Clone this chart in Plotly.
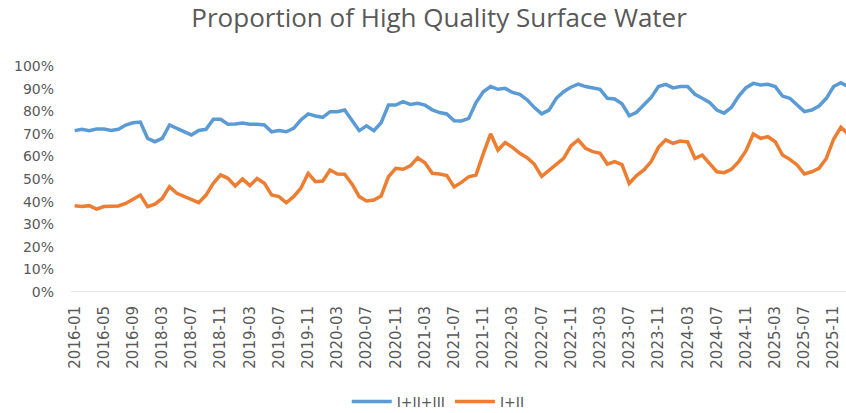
import plotly.graph_objects as go
import pandas as pd

# Categories (monthly, with a gap between 2016-12 and 2018-03 as in the source)
months = [f"2016-{m:02d}" for m in range(1, 13)] + \
         [p.strftime("%Y-%m") for p in pd.period_range("2018-03", "2026-01", freq="M")]

# I+II+III (%)
class_1_3 = [
    71.4, 72.0, 71.4, 72.1, 72.1, 71.5, 72.0, 73.9, 74.9, 75.2,
    68.0, 66.5, 68.0, 73.9, 72.4, 71.0, 69.5, 71.5, 72.0, 76.4,
    76.4, 74.2, 74.3, 74.8, 74.2, 74.2, 73.9, 70.9, 71.4, 70.9,
    72.4, 76.1, 78.8, 77.9, 77.3, 79.8, 79.8, 80.5, 75.7, 71.4,
    73.5, 71.4, 74.9, 82.7, 82.7, 84.2, 83.0, 83.5, 82.7, 80.6,
    79.4, 78.8, 75.8, 75.7, 76.8, 83.8, 88.6, 90.9, 89.7, 90.1,
    88.3, 87.5, 85.0, 81.6, 78.8, 80.5, 85.7, 88.6, 90.6, 92.0,
    90.9, 90.1, 89.7, 85.7, 85.4, 83.3, 78.0, 79.5, 82.7, 86.1,
    90.9, 91.9, 90.3, 90.9, 90.9, 87.5, 85.7, 83.9, 80.5, 79.1,
    81.7, 86.7, 90.4, 92.3, 91.6, 91.9, 90.9, 86.7, 85.7, 83.0,
    79.8, 80.5, 82.3, 85.7, 90.9, 92.6, 90.9,
]

# I+II (%)
class_1_2 = [
    38.2, 37.8, 38.2, 36.7, 37.8, 38.1, 38.1, 39.2, 41.0, 42.9,
    37.8, 38.9, 41.4, 46.6, 43.7, 42.2, 41.0, 39.5, 42.9, 48.1,
    51.8, 50.3, 46.9, 50.0, 47.1, 50.2, 48.1, 42.9, 42.2, 39.5,
    42.2, 45.9, 52.5, 48.8, 49.1, 54.0, 52.2, 52.1, 47.8, 42.2,
    40.3, 40.7, 42.5, 51.0, 54.7, 54.3, 55.8, 59.4, 57.2, 52.5,
    52.2, 51.5, 46.5, 48.5, 51.0, 51.8, 61.2, 70.0, 62.8, 66.1,
    64.0, 61.4, 59.4, 56.5, 51.2, 53.8, 56.6, 59.1, 64.6, 67.3,
    63.6, 62.1, 61.4, 56.6, 57.7, 56.4, 48.0, 51.5, 54.0, 57.7,
    64.0, 67.3, 65.8, 66.8, 66.4, 59.1, 60.6, 56.6, 53.2, 52.8,
    54.3, 57.7, 62.5, 69.9, 68.0, 68.7, 66.5, 60.6, 58.7, 56.2,
    52.2, 53.2, 54.7, 59.1, 67.6, 72.9, 69.9,
]

tick_labels = months[::4]

BLUE = "#5B9BD5"
ORANGE = "#ED7D31"
GREY = "#595959"
FONT = "DejaVu Sans"

fig = go.Figure()
fig.add_trace(go.Scatter(x=months, y=class_1_3, mode="lines", name="I+II+III",
                         line=dict(color=BLUE, width=3.5)))
fig.add_trace(go.Scatter(x=months, y=class_1_2, mode="lines", name="I+II",
                         line=dict(color=ORANGE, width=3.5)))

fig.update_layout(
    width=846, height=413,
    margin=dict(l=71, r=0, t=66, b=121),
    paper_bgcolor="white", plot_bgcolor="white",
    title=dict(text="Proportion of High Quality Surface Water",
               font=dict(family="Open Sans", size=26, color=GREY),
               xref="container", x=0.519, xanchor="center",
               yref="container", y=1 - 18 / 413, yanchor="middle"),
    showlegend=True,
    legend=dict(orientation="h", xref="container", yref="container",
                x=0.518, xanchor="center", y=1 - 402 / 413, yanchor="middle",
                font=dict(family=FONT, size=14, color=GREY),
                itemwidth=40),
    xaxis=dict(type="category", categoryorder="array", categoryarray=months,
               range=[-0.5, 105.7],
               tickmode="array", tickvals=tick_labels, ticktext=tick_labels,
               tickangle=-90, showgrid=False, showline=False, ticks="",
               zeroline=False,
               ticklabelstandoff=10,
               tickfont=dict(family=FONT, size=15, color=GREY)),
    yaxis=dict(range=[0, 100], dtick=10, ticksuffix="%", showgrid=False,
               zeroline=False, showline=False, ticks="",
               ticklabelstandoff=16,
               tickfont=dict(family=FONT, size=14, color=GREY)),
    shapes=[dict(type="line", xref="paper", yref="y", x0=0, x1=1, y0=0, y1=0,
                 line=dict(color="#D9D9D9", width=1.5), layer="below")],
)

fig.write_html("out.html",
               config={"displayModeBar": False},
               post_script="document.body.style.margin='0';"
                           "document.body.style.overflow='hidden';")
